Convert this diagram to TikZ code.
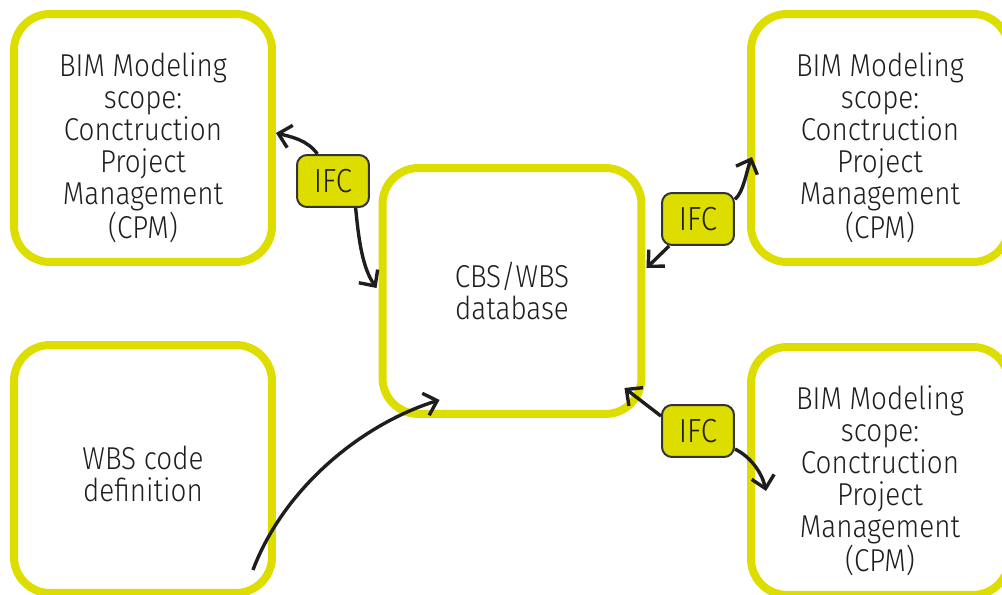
\documentclass[tikz,border=0pt]{standalone}
\usepackage{fontspec}
\setmainfont[FakeStretch=0.88]{Fira Sans Light}
\usetikzlibrary{arrows.meta,calc}
\definecolor{lime}{RGB}{221,221,0}
\definecolor{ink}{RGB}{30,30,30}
\definecolor{edge}{RGB}{51,51,51}
% extra room above the first line of a label, to set it lower in its box
\newcommand\toppad[1]{\rule{0pt}{\dimexpr\fontcharht\font`\l+#1\relax}}
\tikzset{
  scopebox/.style={draw=lime, line width=0.16cm, rounded corners=0.72cm,
    minimum width=5.16cm, minimum height=4.96cm, align=center, text=ink,
    font=\fontsize{18}{18.2}\selectfont, fill=white},
  ifctag/.style={draw=edge, line width=0.04cm, fill=lime, rounded corners=0.2cm,
    minimum width=1.44cm, minimum height=1.04cm, text=ink,
    font=\fontsize{19}{20}\selectfont},
  flow/.style={draw=ink, line width=0.068cm,
    -{Straight Barb[length=0.24cm, width=0.46cm]}}
}
\begin{document}
\begin{tikzpicture}[x=0.02cm, y=-0.02cm]
\useasboundingbox (0,0) rectangle (1002,595);
\clip (0,0) rectangle (1002,595);

% scope boxes
\node[scopebox] (tl) at (143,138) {\toppad{0.4cm}BIM Modeling\\scope:\\Conctruction\\Project\\Management\\(CPM)};
\node[scopebox] (bl) at (143,469) {\toppad{0.2cm}WBS code\\definition};
\node[scopebox, minimum width=5.18cm, minimum height=4.92cm] (cb) at (512,291) {CBS/WBS\\database};
\node[scopebox] (tr) at (880,138) {\toppad{0.4cm}BIM Modeling\\scope:\\Conctruction\\Project\\Management\\(CPM)};
\node[scopebox] (br) at (880,471) {\toppad{0.4cm}BIM Modeling\\scope:\\Conctruction\\Project\\Management\\(CPM)};

% exchange tags
\node[ifctag] (i1) at (333,181) {IFC};
\node[ifctag] (i2) at (698,219) {IFC};
\node[ifctag] (i3) at (698,431) {IFC};

% tag to box links
\draw[flow] (i1.120) .. controls +(-10,-14) and +(16,4) .. ($(tl.east)+(0,-5)$);
\draw[flow] (i1.-50) .. controls +(3,32) and +(-14,-20) .. ($(cb.west)+(-2,-3)$);
\draw[flow] (i2.28) .. controls +(9,-8) and +(-6,15) .. ($(tr.west)+(5,19)$);
\draw[flow] (i2.223) -- ($(cb.east)+(1,-23)$);
\draw[flow] (i3.158) -- ($(cb.south east)+(-21,-30)$);
\draw[flow] (i3.-26) .. controls +(16,8) and +(-4,-18) .. ($(br.west)+(19,20)$);

% code definition feeding the database
\draw[flow] ($(bl.south east)+(-23,-27)$) .. controls +(30,-80) and +(-80,25) .. ($(cb.south west)+(61,-18)$);
\end{tikzpicture}
\end{document}
